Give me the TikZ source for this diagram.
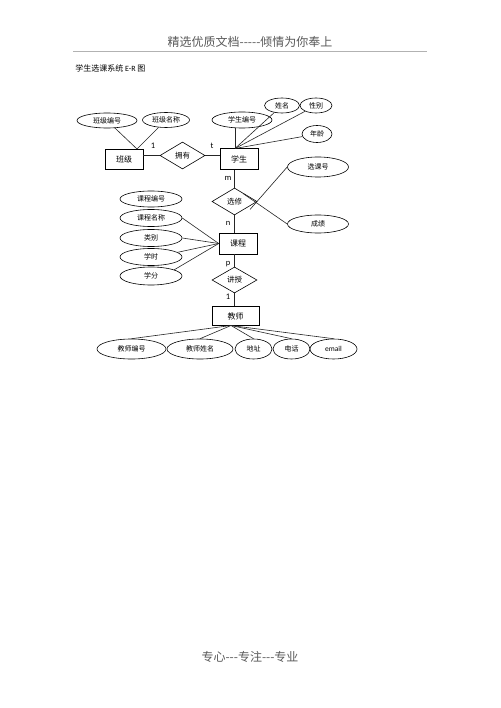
\documentclass[tikz,border=0pt]{standalone}
\usepackage{fontspec}
\newfontfamily\cjk{Noto Sans CJK SC}
\newfontfamily\lat{Carlito}
\usetikzlibrary{shapes.geometric}
\begin{document}
\begin{tikzpicture}[x=1pt,y=-1pt,line width=0.6pt,
 attr/.style={draw,ellipse,inner sep=0pt,font=\cjk\fontsize{7}{8}\selectfont},
 ent/.style={draw,rectangle,inner sep=0pt,font=\cjk\fontsize{8}{9}\selectfont},
 rel/.style={draw,diamond,inner sep=0pt,font=\cjk\fontsize{7.5}{9}\selectfont},
 card/.style={font=\lat\fontsize{8.5}{9}\selectfont,inner sep=0pt},
 conn/.style={draw=black!85}]
\useasboundingbox[fill=white] (0,0) rectangle (500,708);
% header / footer
\node[font=\cjk\fontsize{12}{14}\selectfont,text=black!65] (hdr) at (250,42) {精选优质文档-----倾情为你奉上};
\draw[black!30,line width=1pt] (73,52) -- (427,52);
\node[anchor=west,font=\cjk\fontsize{8}{10}\selectfont,inner sep=0pt] (ttl) at (75,68) {学生选课系统 {\lat E-R} 图};
\node[font=\cjk\fontsize{12}{14}\selectfont,text=black!65] (ftr) at (250,657) {专心---专注---专业};
% entities
\node[ent,minimum width=38pt,minimum height=20pt] (bj) at (124,159) {班级};
\node[ent,minimum width=38pt,minimum height=21pt] (xs) at (239,159) {学生};
\node[ent,minimum width=38pt,minimum height=21pt] (kc) at (238,243.5) {课程};
\node[ent,minimum width=47pt,minimum height=19pt] (jsr) at (235.5,316) {教师};
% relationships
\node[rel,minimum width=45pt,minimum height=27pt] (yy) at (182.5,155.5) {拥有};
\node[rel,minimum width=45pt,minimum height=27pt] (xx) at (234.5,201.5) {选修};
\node[rel,minimum width=45pt,minimum height=26pt] (js) at (234.5,280) {讲授};
% attributes
\node[attr,minimum width=60pt,minimum height=15pt] (bjbh) at (107,120.5) {班级编号};
\node[attr,minimum width=47pt,minimum height=15pt] (bjmc) at (166,120) {班级名称};
\node[attr,minimum width=60pt,minimum height=16pt] (xsbh) at (242,120) {学生编号};
\node[attr,minimum width=35pt,minimum height=15pt] (xm) at (282,105.5) {姓名};
\node[attr,minimum width=32pt,minimum height=15pt] (xb) at (316,105.5) {性别};
\node[attr,minimum width=30pt,minimum height=17pt] (nl) at (317,134) {年龄};
\node[attr,minimum width=61pt,minimum height=20pt] (xkh) at (318,167) {选课号};
\node[attr,minimum width=61pt,minimum height=18pt] (cj) at (318,224) {成绩};
\node[attr,minimum width=62pt,minimum height=16pt] (kcbh) at (151,199) {课程编号};
\node[attr,minimum width=62pt,minimum height=17pt] (kcmc) at (151,218) {课程名称};
\node[attr,minimum width=62pt,minimum height=17pt] (lb) at (151,238) {类别};
\node[attr,minimum width=62pt,minimum height=17pt] (xsh) at (151,257) {学时};
\node[attr,minimum width=62pt,minimum height=18pt] (xf) at (151,276) {学分};
\node[attr,minimum width=69pt,minimum height=20pt] (jsbh) at (131.5,349) {教师编号};
\node[attr,minimum width=66pt,minimum height=20pt] (jsxm) at (200,349) {教师姓名};
\node[attr,minimum width=37pt,minimum height=20pt] (dz) at (253.5,349) {地址};
\node[attr,minimum width=37pt,minimum height=20pt] (dh) at (291.5,349) {电话};
\node[attr,minimum width=47pt,minimum height=20pt,font=\lat\fontsize{7.5}{8}\selectfont] (em) at (333.5,349) {email};
% junction points
\coordinate (bjtop) at (137,149);
\coordinate (xstop) at (235,148.5);
\coordinate (xxa) at (250,209.5);
\coordinate (xxb) at (243,193.5);
\coordinate (jsbot) at (231,325.5);
% connectors
\draw[conn] (bjbh) -- (bjtop);
\draw[conn] (bjmc) -- (bjtop);
\draw[conn] (yy.west -| bj.east) -- (yy.west);
\draw[conn] (yy.east) -- (yy.east -| xs.west);
\draw[conn] (xstop |- xsbh.south) -- (xstop);
\draw[conn] (xm) -- (xstop);
\draw[conn] (xb) -- (xstop);
\draw[conn] (nl) -- (xstop);
\draw[conn] (xx.north) -- (xx.north |- xs.south);
\draw[conn] (xx.south) -- (xx.south |- kc.north);
\draw[conn] (xkh.west) -- (xxa);
\draw[conn] (cj.west) -- (xxb);
\draw[conn] (kcmc.east) -- (kc.west);
\draw[conn] (lb.east) -- (kc.west);
\draw[conn] (xsh.10) -- (kc.west);
\draw[conn] (xf.15) -- (kc.west);
\draw[conn] (js.north) -- (js.north |- kc.south);
\draw[conn] (js.south) -- (js.south |- jsr.north);
\draw[conn] (jsbot) -- (jsbh.north);
\draw[conn] (jsbot) -- (jsxm.north);
\draw[conn] (jsbot) -- (dz.north);
\draw[conn] (jsbot) -- (dh.north);
\draw[conn] (jsbot) -- (em.north);
% cardinalities
\node[card] (c1) at (153,146) {1};
\node[card] (c2) at (212,146) {t};
\node[card] (c3) at (228,178) {m};
\node[card] (c4) at (228,223) {n};
\node[card] (c5) at (228,264) {p};
\node[card] (c6) at (228,297) {1};
\end{tikzpicture}
\end{document}
